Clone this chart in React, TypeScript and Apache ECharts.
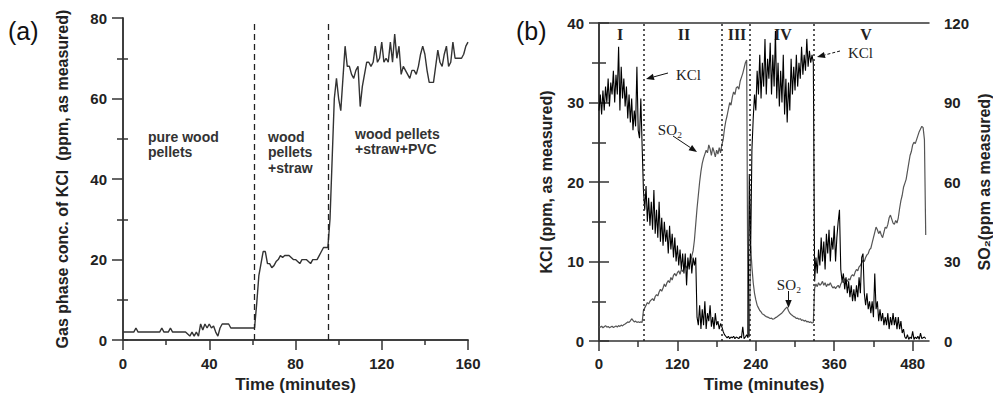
import React, { useEffect, useRef } from 'react';
import * as echarts from 'echarts';

// ---------- Panel (a) data ----------
const A_TIME = [0, 1, 5, 6, 7, 17, 18, 19, 21, 22, 23, 29, 30, 31, 32, 33, 34, 35, 36, 37, 38, 39, 40, 41, 42, 43, 44, 45, 46, 47, 48, 49, 50, 60,
  61, 62, 63, 64, 65, 66, 67, 68, 69, 70, 71, 72, 73, 74, 75, 76, 77, 78, 79, 80, 81, 82, 83, 84, 85, 86, 87, 88, 89, 90, 91, 92, 93, 94, 95,
  96, 97, 98, 99, 100, 101, 102, 103, 104, 105, 106, 107, 108, 109, 110, 111, 112, 113, 114, 115, 116, 117, 118, 119, 120, 121, 122, 123, 124,
  125, 126, 127, 128, 129, 130, 131, 132, 133, 134, 135, 136, 137, 138, 139, 140, 141, 142, 143, 144, 145, 146, 147, 148, 149, 150, 151, 152,
  153, 154, 155, 156, 157, 158, 159, 160];
const A_KCL = [2, 2, 2, 3, 2, 2, 3, 2, 2, 3, 2, 2, 1.5, 1, 2, 1, 2, 1, 4, 2.5, 4, 3, 4, 3, 3.5, 2, 1, 3, 4, 4, 4, 4, 3, 3,
  3, 9, 16, 19, 22, 22, 19, 19, 18, 18.5, 19.5, 20, 21, 20.5, 21, 21, 21, 20.5, 20, 20, 19.5, 19, 20, 20, 20, 19.5, 19, 20, 20, 20, 21, 22, 23, 23, 23,
  30, 45, 60, 65, 60, 57, 65, 73, 68, 68, 66, 65, 67, 68, 58, 63, 66, 69, 69, 68, 69, 73, 69, 70, 74, 69, 70, 69, 74,
  69, 76, 70, 73, 66, 68, 67, 66, 65, 67, 67, 66, 68, 71, 73, 71, 67, 64, 64, 64, 68, 72, 69, 68, 71, 73, 68, 69,
  74, 70, 70, 70, 70, 71, 73, 74];
const A_PHASE_LINES = [61, 95];
const A_X_TICKS = [0, 40, 80, 120, 160];

// ---------- Panel (b) data (2-minute sampling, t = 0..500) ----------
const B_STEP_MIN = 2;
const B_KCL = [
  29, 31, 28.5, 31.5, 29, 32, 30, 33, 29.5, 32.5,
  31, 34, 30, 33.5, 31, 37, 29, 34.5, 30.5, 33,
  29.5, 32, 28, 31, 27.5, 30.5, 26.5, 29, 27, 34.5,
  26.5, 25.5, 30.5, 24.5, 19, 16.5, 19.5, 15, 18, 14.5,
  17.5, 14, 19, 13.5, 16.5, 13, 17.5, 12.5, 15.5, 12,
  15, 12.5, 14, 11, 14.5, 11.5, 13.5, 10.5, 13, 10,
  12, 9.5, 11.5, 9, 11, 8.5, 11, 7, 10.5, 9,
  11, 8.5, 10.5, 9.5, 10.5, 3, 2, 4.5, 1.5, 4,
  2, 5, 1.5, 3.5, 2.5, 4.5, 1.8, 3, 1.5, 3.5,
  2, 2.5, 1.5, 2.2, 1.8, 1.2, 0.8, 0.6, 0.4, 0.6,
  0.3, 0.5, 0.4, 0.6, 0.3, 0.5, 0.4, 0.3, 0.6, 0.4,
  1.8, 0.3, 0.5, 0.8, 0.4, 21, 11, 24, 28, 31,
  29, 34, 31, 36, 30.5, 35, 32, 38, 31, 35.5,
  33, 37.5, 31, 36, 32, 39, 30.5, 35, 29.5, 34,
  30, 36, 28.5, 33, 27.5, 32.5, 29, 35.5, 31, 34.5,
  31.5, 36, 32, 35, 33, 37, 33.5, 36, 34, 38,
  34.5, 36.5, 35, 36, 35, 7.5, 10.5, 8.5, 11.5, 9.5,
  13, 10, 12.5, 9, 13.5, 11, 14, 10, 13, 11.5,
  14.5, 10, 13, 15, 16.5, 9, 7.5, 8.5, 6.5, 8,
  6, 7.5, 5.5, 7, 5, 6.5, 5, 7, 5.5, 8,
  6, 10.5, 11, 6, 4.5, 6, 4, 5, 3.5, 5,
  3, 8.5, 4, 5, 2.5, 4, 2.5, 3.5, 2, 3,
  2, 3.5, 1.5, 3, 2, 3.5, 2, 3, 1.5, 3,
  1.5, 2.5, 1, 1.5, 0.5, 0.3, 0.8, 0.2, 0.5, 0.3,
  1.2, 0.2, 0.5, 0.3, 0.6, 0.2, 1, 0.3, 0.4, 0.5,
  0.3,
];
const B_SO2 = [
  5.5, 5.2, 5.6, 5.0, 5.4, 5.8, 5.2, 5.5, 5.0, 5.3,
  5.6, 5.1, 5.4, 5.7, 5.3, 5.8, 5.5, 6.0, 5.7, 6.2,
  6.4, 6.8, 7.2, 7.0, 7.6, 8.4, 7.8, 7.2, 7.5, 7.0,
  7.3, 7.0, 7.2, 7.0, 11.5, 12.5, 13.5, 14.5, 14, 15,
  15.5, 16, 15.2, 16.8, 17.5, 17, 18.5, 19.5, 18.8, 20,
  21.5, 20.5, 22, 22.8, 22, 24, 23, 24.8, 25.5, 24.5,
  25.8, 26.5, 25.2, 27, 26.2, 27.5, 28.5, 27.5, 29, 28.2,
  30.5, 32, 34, 38, 44, 50, 55, 60, 64, 67,
  69, 70.5, 72, 71, 74, 72.5, 70, 73, 71.5, 69.5,
  72, 70.5, 73, 71, 74, 76, 80, 83, 85, 87.5,
  90, 89, 92, 94, 93, 95.5, 96, 95, 98, 99.5,
  101, 103, 105, 106, 3, 1.5, 36, 28, 22, 18,
  15.5, 13.5, 12.5, 11.5, 11, 10.2, 10, 9.5, 9.2, 9,
  8.8, 8.5, 8.6, 8.2, 8.4, 8.8, 9, 9.4, 9.8, 10.2,
  10.6, 11.2, 11.8, 12.4, 12.8, 11.4, 10.5, 10, 9.6, 9.2,
  9, 8.5, 8.6, 8.2, 8.4, 7.8, 8, 7.5, 7.8, 7.2,
  7.4, 7, 7.2, 6.8, 7, 20, 21.5, 20.5, 22, 21,
  21.5, 22.5, 21, 22, 20.5, 21.5, 21, 22, 20.8, 20,
  20.5, 19.8, 20.5, 21, 20, 21.5, 22.5, 22, 23.5, 23,
  22.5, 23.5, 23, 24.5, 25, 24.5, 26, 27, 26.5, 28,
  28.5, 29.5, 30.5, 30, 31.5, 32.5, 33, 34.5, 35, 37,
  39, 41, 43, 42, 40.5, 41.5, 40, 39, 41, 43,
  42.5, 44, 46.5, 47.5, 46, 44.5, 44, 45.5, 44.5, 46.5,
  50, 53, 55, 58, 59.5, 61, 64, 67, 70, 71.5,
  74, 75, 74.5, 76, 77.5, 79, 80, 81, 80.5, 76,
  40,
];
const B_PHASE_LINES = [68, 188, 230, 329];
const B_X_MAJOR = [0, 120, 240, 360, 480];
const B_X_MINOR = [60, 180, 300, 420];
const B_PHASES = ['I', 'II', 'III', 'IV', 'V'];

const AX = '#333';
const SANS = '"Liberation Sans", Arial, sans-serif';
const SERIF = '"Liberation Serif", "Times New Roman", serif';
const tickLabel = { color: '#222', fontWeight: 'bold' as const, fontSize: 15, fontFamily: SANS };
const nameStyle = (size: number) => ({ color: '#222', fontWeight: 'bold' as const, fontSize: size, fontFamily: SANS });
const axLine = { show: true, lineStyle: { color: AX, width: 1.5 } };

function arrow(x1: number, y1: number, x2: number, y2: number, dashed = false) {
  const dx = x2 - x1, dy = y2 - y1;
  const len = Math.sqrt(dx * dx + dy * dy);
  const ux = dx / len, uy = dy / len;
  const hl = 8, hw = 3.2;
  const bx = x2 - ux * hl, by = y2 - uy * hl;
  return [
    { type: 'line', shape: { x1, y1, x2: bx, y2: by }, style: { stroke: '#111', lineWidth: 1, lineDash: dashed ? [3, 2] : null } },
    { type: 'polygon', shape: { points: [[x2, y2], [bx - uy * hw, by + ux * hw], [bx + uy * hw, by - ux * hw]] }, style: { fill: '#111' } },
  ];
}

function txt(x: number, y: number, text: string, font: string, align = 'left', lineHeight?: number) {
  return {
    type: 'text', x, y,
    style: { text, font, fill: '#222', align, verticalAlign: 'middle', textAlign: align, textVerticalAlign: 'middle', lineHeight },
  };
}

export default function App() {
  const ref = useRef<HTMLDivElement>(null);
  useEffect(() => {
    if (!ref.current) return;
    const chart = echarts.init(ref.current, null, { renderer: 'svg' });
    const aData = A_TIME.map((t, i) => [t, A_KCL[i]]);
    const bKcl = B_KCL.map((v, i) => [i * B_STEP_MIN, v]);
    const bSo2 = B_SO2.map((v, i) => [i * B_STEP_MIN, v]);

    const aLabelFont = `bold 14px ${SANS}`;
    const romanFont = `bold 16px ${SERIF}`;
    const annFont = `15px ${SERIF}`;
    const romanX = [620, 684, 737, 783, 866];

    chart.setOption({
      animation: false,
      backgroundColor: '#fff',
      grid: [
        { left: 123, top: 18, width: 345, height: 330 },
        { left: 599, top: 23, width: 333, height: 322 },
      ],
      xAxis: [
        {
          gridIndex: 0, type: 'value', min: 0, max: 160, interval: 40, position: 'bottom',
          axisLine: axLine,
          axisTick: { show: true, length: 10, lineStyle: { color: AX, width: 1.5 } },
          minorTick: { show: true, splitNumber: 2, length: 5, lineStyle: { color: AX, width: 1.5 } },
          splitLine: { show: false }, minorSplitLine: { show: false },
          axisLabel: { ...tickLabel, margin: 16, customValues: A_X_TICKS },
          name: 'Time (minutes)', nameLocation: 'middle', nameGap: 32, nameTextStyle: nameStyle(17),
        },
        {
          gridIndex: 0, type: 'value', min: 0, max: 160, position: 'top',
          axisLine: axLine, axisTick: { show: false }, axisLabel: { show: false }, splitLine: { show: false },
        },
        {
          gridIndex: 1, type: 'value', min: 0, max: 505, position: 'bottom',
          axisLine: axLine,
          axisTick: { show: true, length: 10, customValues: B_X_MAJOR, lineStyle: { color: AX, width: 1.5 } },
          splitLine: { show: false },
          axisLabel: { ...tickLabel, margin: 15, customValues: B_X_MAJOR },
          name: 'Time (minutes)', nameLocation: 'middle', nameGap: 35, nameTextStyle: nameStyle(17),
        },
        {
          gridIndex: 1, type: 'value', min: 0, max: 505, position: 'bottom',
          axisLine: { show: false },
          axisTick: { show: true, length: 6, customValues: B_X_MINOR, lineStyle: { color: AX, width: 1.5 } },
          splitLine: { show: false }, axisLabel: { show: false, customValues: B_X_MINOR },
        },
        {
          gridIndex: 1, type: 'value', min: 0, max: 505, position: 'top',
          axisLine: axLine, axisTick: { show: false }, axisLabel: { show: false }, splitLine: { show: false },
        },
      ],
      yAxis: [
        {
          gridIndex: 0, type: 'value', min: 0, max: 80, interval: 20, position: 'left',
          axisLine: axLine,
          axisTick: { show: true, length: 11, lineStyle: { color: AX, width: 1.5 } },
          minorTick: { show: true, splitNumber: 2, length: 6, lineStyle: { color: AX, width: 1.5 } },
          splitLine: { show: false }, minorSplitLine: { show: false },
          axisLabel: { ...tickLabel, margin: 16 },
          name: 'Gas phase conc. of KCl  (ppm, as measured)', nameLocation: 'middle', nameGap: 53, nameTextStyle: nameStyle(16),
        },
        {
          gridIndex: 0, type: 'value', min: 0, max: 80, position: 'right',
          axisLine: axLine,
          axisTick: { show: true, length: 5, customValues: [0, 10, 30, 50, 70], lineStyle: { color: AX, width: 1.5 } },
          axisLabel: { show: false, customValues: [0, 10, 30, 50, 70] }, splitLine: { show: false },
        },
        {
          gridIndex: 1, type: 'value', min: 0, max: 40, interval: 10, position: 'left',
          axisLine: axLine,
          axisTick: { show: true, length: 10, lineStyle: { color: AX, width: 1.5 } },
          minorTick: { show: true, splitNumber: 2, length: 7, lineStyle: { color: AX, width: 1.5 } },
          splitLine: { show: false }, minorSplitLine: { show: false },
          axisLabel: { ...tickLabel, margin: 15 },
          name: 'KCl (ppm, as measured)', nameLocation: 'middle', nameGap: 45, nameTextStyle: nameStyle(16),
        },
        {
          gridIndex: 1, type: 'value', min: 0, max: 120, interval: 30, position: 'right',
          axisLine: axLine,
          axisTick: { show: true, length: 10, lineStyle: { color: AX, width: 1.5 } },
          minorTick: { show: true, splitNumber: 2, length: 7, lineStyle: { color: AX, width: 1.5 } },
          splitLine: { show: false }, minorSplitLine: { show: false },
          axisLabel: { ...tickLabel, margin: 15 },
          name: 'SO₂(ppm as measured)', nameLocation: 'middle', nameGap: 47, nameTextStyle: nameStyle(16),
        },
      ],
      series: [
        {
          type: 'line', xAxisIndex: 0, yAxisIndex: 0, data: aData, showSymbol: false, symbol: 'none',
          lineStyle: { color: '#333', width: 1.4 }, silent: true,
          markLine: {
            silent: true, symbol: 'none', label: { show: false },
            lineStyle: { color: '#222', width: 1.3, type: [6, 4] },
            data: A_PHASE_LINES.map((x) => [{ coord: [x, 0] }, { coord: [x, 79.3] }]),
          },
        },
        {
          type: 'line', xAxisIndex: 2, yAxisIndex: 3, data: bSo2, showSymbol: false, symbol: 'none',
          lineStyle: { color: '#555', width: 1.2 }, silent: true,
        },
        {
          type: 'line', xAxisIndex: 2, yAxisIndex: 2, data: bKcl, showSymbol: false, symbol: 'none',
          lineStyle: { color: '#000', width: 1.1 }, silent: true,
          markLine: {
            silent: true, symbol: 'none', label: { show: false },
            lineStyle: { color: '#222', width: 1.5, type: [2, 3] },
            data: B_PHASE_LINES.map((x) => ({ xAxis: x })),
          },
        },
      ],
      graphic: [
        { type: 'text', x: 8, y: 31, style: { text: '(a)', font: `25px ${SANS}`, fill: '#111', verticalAlign: 'middle', textVerticalAlign: 'middle' } },
        { type: 'text', x: 516, y: 31, style: { text: '(b)', font: `25px ${SANS}`, fill: '#111', verticalAlign: 'middle', textVerticalAlign: 'middle' } },
        { type: 'text', x: 148, y: 129, style: { text: 'pure wood\npellets', font: aLabelFont, fill: '#333', lineHeight: 15.5 } },
        { type: 'text', x: 268, y: 129, style: { text: 'wood\npellets\n+straw', font: aLabelFont, fill: '#333', lineHeight: 15.5 } },
        { type: 'text', x: 355, y: 126, style: { text: 'wood pellets\n+straw+PVC', font: aLabelFont, fill: '#333', lineHeight: 15.5 } },
        ...B_PHASES.map((p, i) => txt(romanX[i], 34, p, romanFont, 'center')),
        txt(676, 75, 'KCl', annFont),
        ...arrow(668, 73, 646, 79),
        txt(670, 130, 'SO₂', annFont, 'center'),
        ...arrow(673, 136, 697, 152),
        txt(848, 53, 'KCl', annFont),
        ...arrow(840, 51, 817, 57, true),
        txt(789, 285, 'SO₂', annFont, 'center'),
        ...arrow(788.5, 291, 788.5, 308),
      ],
    });
    return () => chart.dispose();
  }, []);
  return <div ref={ref} style={{ position: 'absolute', left: 0, top: 0, width: 993, height: 398 }} />;
}
